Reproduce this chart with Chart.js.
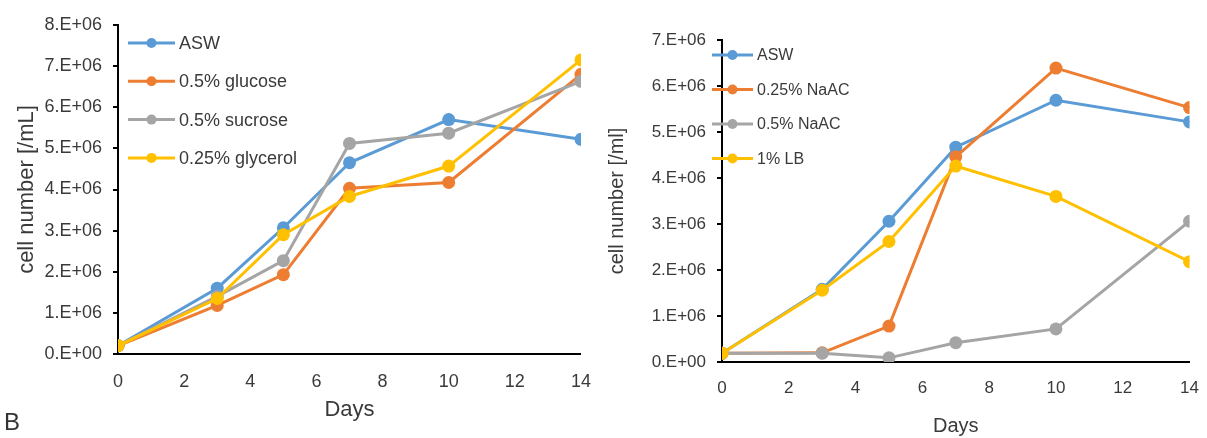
<!DOCTYPE html>
<html>
<head>
<meta charset="utf-8">
<script src="https://cdn.jsdelivr.net/npm/chart.js@4/dist/chart.umd.min.js"></script>
<style>
  html, body { margin: 0; padding: 0; background: #fff; }
  body { width: 1207px; height: 438px; position: relative; overflow: hidden; font-family: "Liberation Sans", Arial, sans-serif; }
  canvas { position: absolute; top: 0; }
  #left { left: 0; }
  #right { left: 600px; }
  #panel { position: absolute; left: 4px; top: 410px; font-size: 24px; line-height: 24px; color: #333; }
</style>
</head>
<body>
<canvas id="left" width="600" height="438"></canvas>
<canvas id="right" width="607" height="438"></canvas>
<div id="panel">B</div>
<script>
// x values (days) shared by both panels
const days = [0, 3, 5, 7, 10, 14];

// left panel: carbon sources
const leftLabels = ['ASW', '0.5% glucose', '0.5% sucrose', '0.25% glycerol'];
const aswLeft = [0.2e6, 1.6e6, 3.07e6, 4.65e6, 5.7e6, 5.22e6];
const glucose = [0.2e6, 1.18e6, 1.93e6, 4.03e6, 4.17e6, 6.8e6];
const sucrose = [0.2e6, 1.4e6, 2.27e6, 5.12e6, 5.37e6, 6.63e6];
const glycerol = [0.2e6, 1.35e6, 2.9e6, 3.83e6, 4.57e6, 7.15e6];

// right panel: acetate / LB
const rightLabels = ['ASW', '0.25% NaAC', '0.5% NaAC', '1% LB'];
const aswRight = [0.19e6, 1.58e6, 3.06e6, 4.67e6, 5.69e6, 5.22e6];
const naac025 = [0.19e6, 0.2e6, 0.78e6, 4.46e6, 6.39e6, 5.53e6];
const naac05 = [0.19e6, 0.19e6, 0.09e6, 0.42e6, 0.72e6, 3.06e6];
const lb = [0.19e6, 1.56e6, 2.62e6, 4.26e6, 3.6e6, 2.18e6];

const colors = ['#5B9BD5', '#ED7D31', '#A5A5A5', '#FFC000'];
const textColor = '#3a3a3a';

const sci = v => v === 0 ? '0.E+00' : Math.round(v / 1e6) + '.E+06';

function makeSets(labels, series) {
    return series.map((s, i) => ({
        label: labels[i],
        data: s.map((y, j) => ({ x: days[j], y: y })),
        borderColor: colors[i],
        backgroundColor: colors[i],
        pointBackgroundColor: colors[i],
        pointBorderColor: colors[i],
        borderWidth: 3,
        pointRadius: 6.5,
        pointBorderWidth: 0,
        tension: 0,
        order: series.length - 1 - i
    }));
}

// legend drawn inside the plot area, Excel style
const insideLegend = {
    id: 'insideLegend',
    afterDraw(chart, args, opts) {
        const ctx = chart.ctx;
        const area = chart.chartArea;
        ctx.save();
        ctx.font = opts.size + 'px "Liberation Sans", Arial, sans-serif';
        ctx.textBaseline = 'middle';
        chart.data.datasets.forEach((ds, i) => {
            const y = area.top + opts.top + i * opts.gap;
            const x0 = area.left + opts.left;
            ctx.strokeStyle = ds.borderColor;
            ctx.lineWidth = 3;
            ctx.beginPath();
            ctx.moveTo(x0, y);
            ctx.lineTo(x0 + opts.len, y);
            ctx.stroke();
            ctx.fillStyle = ds.borderColor;
            ctx.beginPath();
            ctx.arc(x0 + opts.len / 2, y, 5, 0, Math.PI * 2);
            ctx.fill();
            ctx.fillStyle = textColor;
            ctx.fillText(ds.label, x0 + opts.len + 4, y + 1);
        });
        ctx.restore();
    }
};

function makeChart(id, sets, cfg) {
    return new Chart(document.getElementById(id), {
        type: 'line',
        data: { datasets: sets },
        plugins: [insideLegend],
        options: {
            responsive: false,
            animation: false,
            devicePixelRatio: 1,
            layout: { padding: { left: 0, right: cfg.padRight, top: cfg.padTop, bottom: 0 } },
            plugins: {
                legend: { display: false },
                tooltip: { enabled: false },
                insideLegend: cfg.legend
            },
            scales: {
                x: {
                    type: 'linear',
                    min: 0, max: 14,
                    ticks: { stepSize: 2, padding: cfg.xTickPad, color: textColor, font: { family: '"Liberation Sans"', size: cfg.tickSize } },
                    grid: { display: false },
                    border: { display: true, color: '#000', width: 2 },
                    title: { display: true, text: 'Days', color: textColor, font: { family: '"Liberation Sans"', size: cfg.titleSize }, padding: { top: 0, bottom: cfg.daysPad } },
                    afterFit: s => { s.height = cfg.xHeight; }
                },
                y: {
                    min: 0, max: cfg.yMax,
                    ticks: { stepSize: 1e6, padding: 11, color: textColor, callback: sci, font: { family: '"Liberation Sans"', size: cfg.tickSize } },
                    grid: { drawOnChartArea: false, drawTicks: true, tickLength: 5, color: '#000', lineWidth: 2 },
                    border: { display: true, color: '#000', width: 2 },
                    title: { display: true, text: cfg.yTitle, color: textColor, font: { family: '"Liberation Sans"', size: cfg.titleSize }, padding: { top: cfg.yTitlePad, bottom: 0 } },
                    afterFit: s => { s.width = cfg.yWidth; }
                }
            }
        }
    });
}

makeChart('left', makeSets(leftLabels, [aswLeft, glucose, sucrose, glycerol]), {
    padRight: 17, padTop: 25, xHeight: 84, yWidth: 118, yMax: 8e6,
    tickSize: 18, titleSize: 22, xTickPad: 9, daysPad: 15, yTitlePad: 14,
    yTitle: 'cell number [/mL]',
    legend: { top: 18, gap: 38.3, left: 10, len: 47, size: 18 }
});

makeChart('right', makeSets(rightLabels, [aswRight, naac025, naac05, lb]), {
    padRight: 15, padTop: 40, xHeight: 76, yWidth: 122, yMax: 7e6,
    tickSize: 17, titleSize: 20, xTickPad: 8, daysPad: 0, yTitlePad: 5,
    yTitle: 'cell number [/ml]',
    legend: { top: 15, gap: 34.5, left: -10, len: 41, size: 16 }
});
</script>
</body>
</html>
